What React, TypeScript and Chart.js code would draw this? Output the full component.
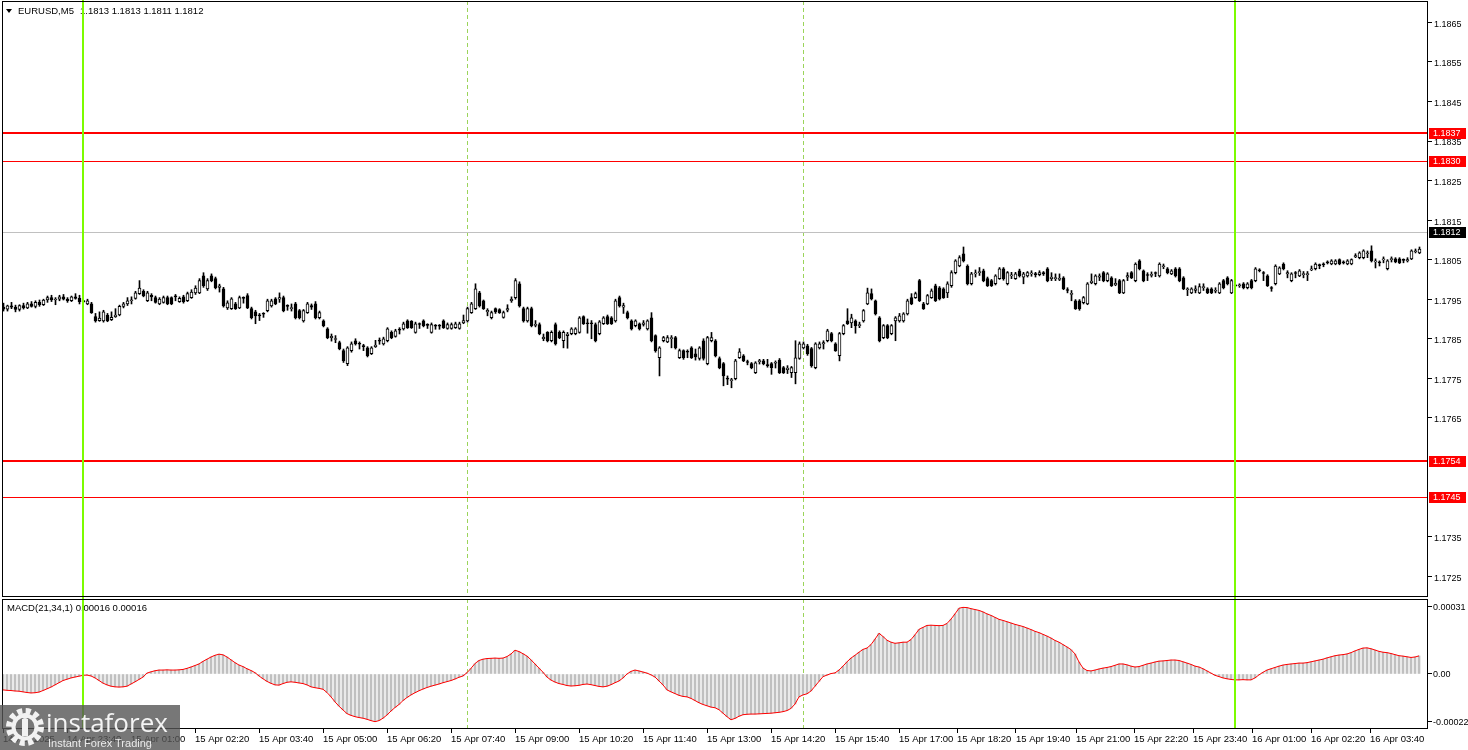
import React, { useEffect, useRef } from "react";
import { Chart, registerables } from "chart.js";

Chart.register(...registerables);

const FONT = "'Liberation Sans', Arial, sans-serif";

const symbolTitle = "EURUSD,M5";
const quoteText = "1.1813 1.1813 1.1811 1.1812";
const macdTitle = "MACD(21,34,1) 0.00016 0.00016";

const priceTicks = [1.1865, 1.1855, 1.1845, 1.1835, 1.1825, 1.1815, 1.1805, 1.1795, 1.1785, 1.1775, 1.1765, 1.1735, 1.1725];
const priceMin = 1.17197;
const priceMax = 1.18704;

const strongLevels = [1.1837, 1.1754];
const weakLevels = [1.183, 1.1745];
const bidPrice = 1.1812;

const macdTicks = [0.00031, 0, -0.00022];
const macdTickLabels = ["0.00031", "0.00", "-0.00022"];
const macdMin = -0.0002526;
const macdMax = 0.0003444;

const timeTickBars = [0, 16, 32, 48, 64, 80, 96, 112, 128, 144, 160, 176, 192, 208, 224, 238.5, 253.25, 268.25, 282.75, 297.5, 312.25, 327, 341.75];
const timeTickLabels = ["14 Apr 2025", "14 Apr 23:40", "15 Apr 01:00", "15 Apr 02:20", "15 Apr 03:40", "15 Apr 05:00", "15 Apr 06:20", "15 Apr 07:40", "15 Apr 09:00", "15 Apr 10:20", "15 Apr 11:40", "15 Apr 13:00", "15 Apr 14:20", "15 Apr 15:40", "15 Apr 17:00", "15 Apr 18:20", "15 Apr 19:40", "15 Apr 21:00", "15 Apr 22:20", "15 Apr 23:40", "16 Apr 01:00", "16 Apr 02:20", "16 Apr 03:40"];

const greenLineBars = [20, 308];
const separatorBars = [116, 200];

// [open, high, low, close]
const ohlcNight = [
  [1.1793,1.1794,1.1792,1.17925],[1.17925,1.17935,1.1792,1.17933],[1.17933,1.17942,1.17926,1.1793],[1.1793,1.17935,1.17918,1.17924],
  [1.17924,1.17936,1.1792,1.17934],[1.17934,1.1794,1.17925,1.17928],[1.17928,1.17942,1.17926,1.17938],[1.17938,1.17944,1.1793,1.17932],
  [1.17932,1.17946,1.17928,1.17942],[1.17942,1.17948,1.17932,1.17936],[1.17936,1.1795,1.17934,1.17948],[1.17948,1.17958,1.17942,1.17954],
  [1.17954,1.1796,1.17944,1.17948],[1.17948,1.17954,1.17936,1.1795],[1.1795,1.1796,1.17946,1.17956],[1.17956,1.17962,1.17948,1.1795],
  [1.1795,1.17954,1.17942,1.17946],[1.17946,1.17958,1.17944,1.17956],[1.17956,1.17964,1.1795,1.17952],[1.17952,1.1796,1.17938,1.17944],
];

const ohlcMorning = [
  [1.17944,1.17946,1.17942,1.17944],[1.17938,1.1795,1.17936,1.17946],[1.17938,1.17942,1.17914,1.17916],[1.17906,1.17914,1.17892,1.17895],
  [1.17896,1.17918,1.17894,1.17902],[1.17895,1.17922,1.17892,1.17918],[1.1791,1.17914,1.17893,1.17895],[1.17898,1.17918,1.17896,1.17904],
  [1.17906,1.17926,1.17904,1.1791],[1.1791,1.17935,1.17908,1.17932],[1.17932,1.17942,1.17928,1.17938],[1.17938,1.17954,1.17934,1.17946],
  [1.17946,1.17956,1.17938,1.17948],[1.17952,1.1797,1.1795,1.17966],[1.17964,1.17997,1.17962,1.17978],[1.1797,1.17974,1.17956,1.17958],
  [1.17946,1.1797,1.17944,1.17966],[1.1796,1.17964,1.17946,1.17956],[1.17954,1.17958,1.1794,1.17942],[1.17938,1.17954,1.17936,1.1795],
  [1.17942,1.17958,1.1794,1.17954],[1.17954,1.17958,1.17936,1.17938],[1.17954,1.17956,1.17936,1.17938],[1.17958,1.17962,1.17946,1.17956],
  [1.17944,1.17956,1.17942,1.17952],[1.17956,1.1796,1.1794,1.17944],[1.17946,1.17968,1.17944,1.17964],[1.17954,1.17974,1.17952,1.17968],
  [1.17966,1.17984,1.17962,1.17978],[1.17966,1.18002,1.17964,1.17997],[1.18009,1.18017,1.1798,1.17984],[1.17976,1.18002,1.17972,1.17997],
  [1.18009,1.18014,1.17994,1.17997],[1.18002,1.18006,1.17976,1.17979],[1.1798,1.17988,1.17968,1.17984],[1.17976,1.1798,1.1793,1.17933],
  [1.17928,1.17946,1.17924,1.17941],[1.17926,1.17954,1.17924,1.17951],[1.17938,1.17942,1.17924,1.17926],[1.17928,1.17958,1.17926,1.17954],
  [1.17954,1.17956,1.1794,1.17952],[1.17959,1.17964,1.17926,1.17928],[1.17926,1.1793,1.179,1.17903],[1.17918,1.17922,1.17888,1.17908],
  [1.1791,1.17914,1.17896,1.17908],[1.17914,1.17916,1.17904,1.17912],[1.17921,1.1795,1.17918,1.17946],[1.17933,1.1795,1.1793,1.17946],
  [1.17951,1.17954,1.17936,1.17938],[1.1795,1.17966,1.17942,1.17954],[1.17954,1.17958,1.17918,1.17921],[1.17934,1.17936,1.17922,1.17932],
  [1.17926,1.17938,1.1792,1.17929],[1.17938,1.17942,1.179,1.17903],[1.17921,1.17924,1.179,1.17903],[1.17895,1.17924,1.17892,1.17921],
  [1.17916,1.17942,1.17914,1.17938],[1.17934,1.17938,1.17924,1.1793],[1.17938,1.17944,1.179,1.17903],[1.17903,1.1792,1.179,1.17916],
  [1.17895,1.17898,1.1788,1.17883],[1.17875,1.17878,1.1785,1.17853],[1.17853,1.17862,1.17844,1.17856],[1.17848,1.17858,1.1784,1.1785],
  [1.1784,1.17844,1.17822,1.17825],[1.1782,1.17824,1.1779,1.17794],[1.17787,1.1783,1.17782,1.17827],
];

const ohlcMidday = [
  [1.1782,1.17842,1.17816,1.17837],[1.17845,1.1785,1.17834,1.17837],[1.17838,1.17842,1.17824,1.17836],[1.17832,1.17836,1.1782,1.1783],
  [1.17827,1.1783,1.17804,1.17807],[1.17812,1.1783,1.1781,1.17827],[1.1783,1.17846,1.17828,1.17834],[1.17846,1.17852,1.17836,1.17844],
  [1.17837,1.17854,1.17834,1.1785],[1.17845,1.17878,1.17842,1.17875],[1.17866,1.1787,1.1785,1.17853],[1.17856,1.17874,1.17854,1.1787],
  [1.17874,1.17878,1.17862,1.17872],[1.17875,1.17892,1.17872,1.17888],[1.17895,1.17898,1.17876,1.17878],[1.17894,1.17896,1.17876,1.17878],
  [1.17866,1.17892,1.17864,1.17888],[1.17888,1.1789,1.17876,1.17886],[1.17895,1.17898,1.1788,1.17883],[1.17886,1.17888,1.17876,1.17884],
  [1.17866,1.1789,1.17864,1.17886],[1.17884,1.17886,1.17874,1.17882],[1.17884,1.17886,1.17874,1.17882],[1.17895,1.17898,1.17876,1.17878],
  [1.17876,1.1789,1.17874,1.17886],[1.17876,1.1789,1.17874,1.17886],[1.17878,1.17892,1.17876,1.17888],[1.17876,1.17892,1.17874,1.17888],
  [1.1789,1.1791,1.17888,1.17896],[1.17895,1.1793,1.17892,1.17926],[1.17916,1.17942,1.17914,1.17938],[1.17926,1.17989,1.17924,1.17976],
  [1.17966,1.1797,1.1793,1.17933],[1.17946,1.17948,1.17924,1.17926],[1.17918,1.17926,1.17908,1.17922],[1.17903,1.1792,1.179,1.17916],
  [1.17926,1.17928,1.17914,1.17918],[1.17924,1.17926,1.17914,1.17916],[1.17904,1.1792,1.17902,1.17916],[1.17922,1.17936,1.17918,1.17926],
  [1.17946,1.17956,1.17942,1.1795],[1.17954,1.18002,1.1795,1.17997],[1.17989,1.17994,1.1793,1.17933],[1.17926,1.1793,1.17892,1.17895],
  [1.17895,1.1793,1.17892,1.17926],[1.17926,1.1793,1.1788,1.17883],[1.17884,1.17896,1.1788,1.17886],[1.17886,1.1789,1.1786,1.17863],
  [1.1785,1.17862,1.17845,1.17854],[1.17866,1.17868,1.17842,1.17845],[1.17845,1.1787,1.17842,1.17866],[1.17886,1.1789,1.17834,1.17837],
  [1.17866,1.1787,1.1785,1.17853],[1.17845,1.1787,1.17827,1.17866],[1.17858,1.17866,1.17826,1.17862],[1.17863,1.17878,1.1786,1.17875],
  [1.17863,1.17878,1.1786,1.17875],[1.17866,1.17906,1.17864,1.17903],[1.17906,1.17908,1.17886,1.17888],[1.1789,1.179,1.17864,1.17888],
  [1.1789,1.17896,1.1785,1.17888],[1.17886,1.1789,1.17842,1.17845],[1.17863,1.17896,1.1786,1.17893],[1.17888,1.17906,1.17886,1.17903],
  [1.17906,1.1791,1.17886,1.17888],[1.17903,1.17906,1.17886,1.17888],[1.17895,1.1795,1.17892,1.17946],[1.17954,1.17958,1.1793,1.17933],
  [1.1793,1.1794,1.17914,1.17934],[1.17916,1.1792,1.179,1.17903],[1.17895,1.17898,1.17872,1.17875],[1.17883,1.17898,1.1788,1.17895],
  [1.17888,1.1789,1.17872,1.17875],[1.17886,1.17896,1.17882,1.1789],[1.17875,1.17898,1.17872,1.17895],[1.17903,1.17916,1.17842,1.17845],
  [1.17858,1.1786,1.17816,1.1782],[1.17802,1.1783,1.17756,1.17827],[1.17845,1.17856,1.17842,1.17853],[1.17842,1.17858,1.1784,1.17853],
  [1.1785,1.17858,1.17827,1.17853],[1.17853,1.17856,1.17824,1.17827],[1.17802,1.17824,1.178,1.1782],[1.1782,1.17822,1.17798,1.17802],
  [1.17818,1.17822,1.17802,1.17816],[1.17827,1.1783,1.178,1.17802],[1.17812,1.17824,1.17796,1.17804],
];

const ohlcAfternoon = [
  [1.178,1.1783,1.17796,1.17827],[1.17845,1.1785,1.17796,1.178],[1.17787,1.17856,1.17784,1.17853],[1.17845,1.17866,1.17842,1.17853],
  [1.17845,1.17848,1.17804,1.17807],[1.178,1.17804,1.17774,1.17777],[1.17787,1.1779,1.17731,1.17756],[1.1775,1.17756,1.17734,1.17748],
  [1.17744,1.1775,1.17726,1.17746],[1.17749,1.17798,1.17746,1.17794],[1.17802,1.17825,1.178,1.17817],[1.17807,1.1781,1.17792,1.17794],
  [1.17792,1.17796,1.17784,1.1779],[1.17787,1.1779,1.17774,1.17777],[1.17764,1.17792,1.17762,1.17789],[1.17792,1.17798,1.17786,1.17794],
  [1.17794,1.17798,1.17784,1.17787],[1.17784,1.17798,1.17778,1.17782],[1.17787,1.1779,1.1776,1.17777],[1.17788,1.17794,1.17776,1.1779],
  [1.17796,1.178,1.17762,1.17764],[1.17777,1.1778,1.17762,1.17764],[1.17772,1.17782,1.17762,1.17776],[1.17764,1.1778,1.17752,1.17777],
  [1.17764,1.17845,1.17736,1.17802],[1.178,1.17842,1.17798,1.17837],[1.17827,1.17842,1.17824,1.17837],[1.17832,1.17836,1.17808,1.17812],
  [1.17825,1.17828,1.17778,1.17782],[1.17777,1.1784,1.17774,1.17837],[1.17827,1.17842,1.17824,1.17837],[1.17837,1.17845,1.17824,1.1784],
  [1.17845,1.17874,1.17842,1.1787],[1.17863,1.17866,1.17842,1.17845],[1.17837,1.1784,1.17818,1.1782],[1.17807,1.17866,1.17794,1.17863],
  [1.17863,1.17886,1.1786,1.17883],[1.17895,1.17926,1.17886,1.17888],[1.1789,1.17912,1.17878,1.17903],[1.17895,1.17898,1.17864,1.17883],
  [1.17883,1.17892,1.17878,1.17886],[1.17895,1.17924,1.17892,1.17921],[1.17938,1.17978,1.17936,1.17966],[1.17964,1.17976,1.17948,1.17951],
  [1.17946,1.17948,1.1791,1.17913],[1.17903,1.17906,1.17842,1.17845],[1.17853,1.17886,1.1785,1.17883],[1.17883,1.17886,1.1785,1.17853],
  [1.17863,1.17886,1.1786,1.17883],[1.17895,1.17906,1.17845,1.17903],[1.17895,1.17914,1.17892,1.17908],[1.17895,1.17916,1.17892,1.17913],
  [1.17913,1.1795,1.1791,1.17946],[1.17954,1.17964,1.17936,1.17938],[1.17954,1.17968,1.17952,1.17964],[1.17997,1.18,1.17944,1.17946],
  [1.17938,1.17942,1.17924,1.17926],[1.17938,1.17962,1.17936,1.17959],[1.17954,1.17976,1.17952,1.17971],[1.17984,1.17988,1.17944,1.17946],
  [1.17979,1.17982,1.17948,1.17951],[1.17976,1.17979,1.17952,1.17954],[1.17966,1.17994,1.17954,1.17989],[1.17984,1.18022,1.1798,1.18017],
  [1.18017,1.1805,1.18014,1.18047],[1.18034,1.1806,1.18032,1.18055],[1.18065,1.18082,1.18044,1.18047],[1.18034,1.18037,1.17986,1.17989],
  [1.17989,1.18018,1.17986,1.18014],[1.18014,1.18024,1.18006,1.18016],[1.18017,1.1803,1.1801,1.18019],[1.18022,1.18026,1.17994,1.17997],
  [1.18002,1.18006,1.17982,1.17984],[1.17997,1.18,1.17982,1.17984],[1.17989,1.18012,1.17986,1.18009],[1.18002,1.1803,1.18,1.18027],
  [1.18027,1.1803,1.17998,1.18002],[1.17989,1.1802,1.17986,1.18017],[1.18009,1.18018,1.18002,1.18011],[1.18002,1.18018,1.18,1.18014],
  [1.18022,1.18026,1.18006,1.18009],[1.18006,1.18018,1.17989,1.18014],[1.18009,1.1802,1.18006,1.18017],[1.18014,1.18022,1.18008,1.18016],
  [1.18014,1.18018,1.18006,1.18012],[1.18012,1.18022,1.18009,1.18017],[1.18017,1.1802,1.1801,1.18014],
];

const ohlcEvening = [
  [1.18027,1.1803,1.17994,1.17997],[1.18002,1.18017,1.17997,1.18006],[1.18002,1.18014,1.17997,1.18004],[1.18,1.18014,1.17997,1.18002],
  [1.18004,1.18007,1.17974,1.17976],[1.17974,1.17979,1.17966,1.17972],[1.17962,1.17972,1.17946,1.17964],[1.17946,1.17949,1.17924,1.17926],
  [1.17946,1.17949,1.17922,1.17926],[1.17941,1.17957,1.17938,1.17954],[1.17938,1.17992,1.17936,1.17989],[1.17992,1.18014,1.17989,1.17996],
  [1.17989,1.18012,1.17986,1.18009],[1.18006,1.18014,1.17997,1.18009],[1.18017,1.1802,1.17994,1.17997],[1.17997,1.18017,1.17994,1.18014],
  [1.18004,1.18007,1.17982,1.17984],[1.17986,1.18002,1.17984,1.1799],[1.17997,1.18,1.17964,1.17966],[1.17966,1.18,1.17964,1.17997],
  [1.18006,1.18017,1.17997,1.1801],[1.18017,1.1802,1.18002,1.18004],[1.17997,1.18042,1.17994,1.18039],[1.18047,1.1805,1.18024,1.18027],
  [1.18022,1.18024,1.17994,1.17997],[1.18012,1.18017,1.17997,1.1801],[1.1801,1.18019,1.18006,1.18013],[1.18017,1.18019,1.18007,1.18015],
  [1.18009,1.18042,1.18006,1.18039],[1.18032,1.18039,1.18027,1.18034],[1.18027,1.1803,1.18014,1.18017],[1.18014,1.18025,1.18012,1.18022],
  [1.18027,1.1803,1.18006,1.18009],[1.18027,1.1803,1.17994,1.17997],[1.18004,1.18007,1.17974,1.17976],[1.17974,1.17979,1.17959,1.17976],
  [1.17966,1.17979,1.17964,1.17976],[1.17972,1.17984,1.17966,1.17976],[1.17966,1.17989,1.17964,1.17982],[1.17979,1.17989,1.17972,1.17982],
  [1.17976,1.17979,1.17964,1.17966],[1.17976,1.17979,1.17964,1.17966],[1.1797,1.17979,1.17966,1.17972],[1.17966,1.17992,1.17964,1.17989],
  [1.17997,1.18,1.17976,1.17979],[1.18004,1.18007,1.17986,1.17989],[1.17966,1.18,1.17964,1.17997],[1.17984,1.17986,1.17982,1.17984],
  [1.17984,1.17989,1.1798,1.17986],[1.17989,1.17992,1.17976,1.17979],[1.17979,1.17992,1.17976,1.17989],[1.17997,1.18,1.17976,1.17979],
  [1.17997,1.1803,1.17994,1.18027],[1.18024,1.18027,1.18019,1.18022],[1.18017,1.1802,1.17997,1.18015],[1.18009,1.18012,1.17982,1.17984],
  [1.17979,1.17982,1.1797,1.17977],[1.17989,1.18037,1.17986,1.18034],[1.18014,1.18032,1.18012,1.18029],[1.18039,1.18042,1.18024,1.18027],
  [1.18014,1.18022,1.18004,1.18017],[1.17997,1.18017,1.17994,1.18014],[1.18017,1.1802,1.18004,1.18015],[1.18009,1.18025,1.18007,1.18022],
  [1.18012,1.1802,1.18004,1.18015],[1.18012,1.1802,1.17997,1.18015],[1.18024,1.18034,1.18022,1.18027],[1.18027,1.18042,1.18024,1.18039],
  [1.18037,1.18039,1.18027,1.18035],[1.18039,1.18042,1.18032,1.18037],[1.18044,1.18047,1.18039,1.18042],[1.18039,1.1805,1.18037,1.18047],
  [1.18039,1.1805,1.18037,1.18047],[1.1805,1.18052,1.18037,1.18039],[1.18044,1.18047,1.18039,1.18042],[1.18039,1.1805,1.18037,1.18047],
  [1.18039,1.18052,1.18037,1.1805],[1.18057,1.18065,1.18055,1.1806],[1.18055,1.1807,1.18052,1.18067],[1.18055,1.18075,1.18052,1.18072],
  [1.18065,1.18072,1.18055,1.18067],[1.18072,1.18085,1.18044,1.18047],[1.18044,1.18052,1.18029,1.18047],[1.18044,1.18047,1.18034,1.18042],
  [1.18049,1.18057,1.18042,1.18052],[1.18027,1.1805,1.18024,1.18047],[1.1805,1.18057,1.18044,1.18052],[1.18052,1.18055,1.18042,1.18044],
  [1.18052,1.18055,1.1804,1.18042],[1.1805,1.18052,1.18042,1.18048],[1.18047,1.18055,1.18044,1.1805],[1.18052,1.18075,1.1805,1.18072],
  [1.1807,1.18077,1.18067,1.18072],[1.18067,1.18082,1.18065,1.18077],
];

const macdHistogram = [
  -7.3e-5,-7.5e-5,-7.6e-5,-7.8e-5,-7.9e-5,-8.2e-5,-8.5e-5,-8.7e-5,-8.6e-5,-8.3e-5,
  -7.6e-5,-6.8e-5,-6.0e-5,-5.0e-5,-4.0e-5,-3.0e-5,-2.4e-5,-1.8e-5,-1.4e-5,-1.0e-5,
  -0.6e-5,-0.5e-5,-0.9e-5,-1.8e-5,-3.0e-5,-4.2e-5,-5.0e-5,-5.6e-5,-5.9e-5,-6.0e-5,
  -5.9e-5,-5.6e-5,-4.6e-5,-3.6e-5,-2.5e-5,-1.4e-5,0.4e-5,1.0e-5,1.5e-5,1.8e-5,
  1.8e-5,1.9e-5,1.8e-5,1.8e-5,1.9e-5,2.1e-5,2.6e-5,3.2e-5,3.9e-5,4.6e-5,
  5.8e-5,6.8e-5,7.8e-5,8.6e-5,9.1e-5,8.8e-5,7.8e-5,6.5e-5,5.2e-5,4.1e-5,
  3.4e-5,2.4e-5,1.6e-5,0.6e-5,-0.9e-5,-2.2e-5,-3.4e-5,-4.3e-5,-5.0e-5,-5.1e-5,
  -4.4e-5,-3.8e-5,-3.6e-5,-3.8e-5,-4.1e-5,-4.4e-5,-5.0e-5,-5.9e-5,-6.3e-5,-6.6e-5,
  -7.0e-5,-8.5e-5,-10.5e-5,-12.8e-5,-14.8e-5,-16.5e-5,-18.2e-5,-19.0e-5,-19.6e-5,-20.0e-5,
  -20.3e-5,-20.8e-5,-21.4e-5,-21.9e-5,-21.4e-5,-20.3e-5,-18.8e-5,-17.0e-5,-15.4e-5,-14.0e-5,
  -12.2e-5,-10.8e-5,-9.6e-5,-8.6e-5,-7.7e-5,-6.9e-5,-6.2e-5,-5.6e-5,-5.1e-5,-4.6e-5,
  -4.0e-5,-3.5e-5,-3.0e-5,-2.3e-5,-1.5e-5,-0.9e-5,0.6e-5,2.6e-5,4.8e-5,6.2e-5,
  6.8e-5,7.1e-5,7.2e-5,7.3e-5,7.2e-5,7.3e-5,8.0e-5,9.2e-5,10.9e-5,10.3e-5,
  9.3e-5,8.2e-5,6.5e-5,4.6e-5,2.7e-5,0.8e-5,-1.4e-5,-2.8e-5,-3.7e-5,-4.4e-5,
  -4.8e-5,-5.3e-5,-5.5e-5,-5.4e-5,-5.2e-5,-4.8e-5,-4.6e-5,-4.9e-5,-5.3e-5,-5.7e-5,
  -5.9e-5,-5.6e-5,-4.9e-5,-4.0e-5,-3.2e-5,-1.8e-5,0.0,1.2e-5,1.8e-5,1.4e-5,
  0.9e-5,0.4e-5,-0.4e-5,-1.4e-5,-3.2e-5,-5.0e-5,-7.3e-5,-8.2e-5,-9.0e-5,-9.8e-5,
  -10.3e-5,-10.5e-5,-11.2e-5,-12.2e-5,-13.2e-5,-14.0e-5,-14.6e-5,-15.2e-5,-15.5e-5,-16.4e-5,
  -18.0e-5,-19.6e-5,-21.0e-5,-20.4e-5,-19.4e-5,-18.7e-5,-18.5e-5,-18.4e-5,-18.4e-5,-18.3e-5,
  -18.2e-5,-18.1e-5,-18.0e-5,-17.8e-5,-17.6e-5,-17.3e-5,-16.8e-5,-15.8e-5,-13.8e-5,-10.5e-5,
  -9.6e-5,-9.1e-5,-7.8e-5,-5.6e-5,-3.4e-5,-1.2e-5,-0.5e-5,0.2e-5,0.5e-5,1.8e-5,
  3.6e-5,5.6e-5,7.3e-5,8.6e-5,10.0e-5,11.3e-5,11.9e-5,13.5e-5,16.0e-5,18.7e-5,
  17.2e-5,15.5e-5,14.6e-5,14.1e-5,14.3e-5,14.6e-5,14.6e-5,15.8e-5,18.0e-5,20.5e-5,
  21.4e-5,22.3e-5,22.4e-5,22.3e-5,22.2e-5,22.3e-5,23.2e-5,25.2e-5,27.6e-5,30.2e-5,
  30.6e-5,30.5e-5,30.0e-5,29.6e-5,29.2e-5,28.5e-5,27.6e-5,26.9e-5,26.0e-5,25.1e-5,
  24.6e-5,24.0e-5,23.4e-5,22.8e-5,22.3e-5,21.8e-5,21.1e-5,20.4e-5,19.6e-5,19.0e-5,
  18.2e-5,17.4e-5,16.5e-5,15.4e-5,14.6e-5,13.5e-5,12.4e-5,11.2e-5,9.2e-5,5.5e-5,
  2.7e-5,1.6e-5,1.4e-5,1.8e-5,2.3e-5,2.7e-5,3.0e-5,3.4e-5,4.0e-5,4.6e-5,
  4.6e-5,4.2e-5,3.6e-5,3.2e-5,3.4e-5,4.0e-5,4.6e-5,5.0e-5,5.5e-5,5.9e-5,
  6.0e-5,6.2e-5,6.4e-5,6.4e-5,6.2e-5,5.6e-5,5.0e-5,4.4e-5,3.6e-5,3.2e-5,
  2.4e-5,1.4e-5,0.4e-5,-0.6e-5,-1.2e-5,-1.8e-5,-2.2e-5,-2.5e-5,-2.7e-5,-2.7e-5,
  -2.6e-5,-2.7e-5,-2.7e-5,-1.8e-5,-0.4e-5,0.8e-5,1.8e-5,2.4e-5,3.0e-5,3.6e-5,
  4.1e-5,4.4e-5,4.6e-5,4.8e-5,5.0e-5,5.0e-5,5.2e-5,5.6e-5,6.0e-5,6.4e-5,
  6.8e-5,7.4e-5,7.9e-5,8.4e-5,8.7e-5,8.9e-5,9.2e-5,9.8e-5,10.6e-5,11.3e-5,
  11.9e-5,12.0e-5,11.6e-5,11.0e-5,10.4e-5,10.0e-5,9.8e-5,9.4e-5,8.9e-5,8.4e-5,
  8.2e-5,7.9e-5,7.6e-5,7.8e-5,8.3e-5,
];

const candles = [...ohlcNight, ...ohlcMorning, ...ohlcMidday, ...ohlcAfternoon, ...ohlcEvening];

const AXIS_FONT = { size: 9, family: FONT };
const TIME_FONT = { size: 9.5, family: FONT };

function lineX(chart: any, bar: number, shift: number) {
  return Math.floor(chart.scales.x.getPixelForValue(bar) + shift);
}

function drawSeparators(chart: any, shift: number) {
  const { ctx, chartArea: a } = chart;
  ctx.save();
  ctx.strokeStyle = "#9bd45a";
  ctx.lineWidth = 1;
  ctx.setLineDash([4, 3]);
  for (const b of separatorBars) {
    const X = lineX(chart, b, shift) + 0.5;
    ctx.beginPath();
    ctx.moveTo(X, a.top);
    ctx.lineTo(X, a.bottom);
    ctx.stroke();
  }
  ctx.restore();
}

function drawGreen(chart: any, shift: number, y0: number, y1: number) {
  const { ctx } = chart;
  ctx.save();
  ctx.fillStyle = "#7cfc00";
  for (const b of greenLineBars) {
    const X = lineX(chart, b, shift);
    ctx.fillRect(X - 1, y0, 2, y1 - y0);
  }
  ctx.restore();
}

function drawFrame(chart: any) {
  const { ctx, chartArea: a } = chart;
  ctx.save();
  ctx.strokeStyle = "#000";
  ctx.lineWidth = 1;
  ctx.strokeRect(a.left + 0.5, a.top + 0.5, a.right - a.left - 1, a.bottom - a.top - 1);
  ctx.restore();
}

function priceTag(ctx: any, y: number, text: string, bg: string) {
  const yy = Math.round(y);
  ctx.fillStyle = bg;
  ctx.fillRect(1429, yy - 5, 37, 11);
  ctx.fillStyle = "#fff";
  ctx.font = `9px ${FONT}`;
  ctx.textAlign = "left";
  ctx.textBaseline = "middle";
  ctx.fillText(text, 1433, yy + 0.5);
}

const noPadY = (w: number) => (s: any) => {
  s.width = w;
  s.paddingTop = 0;
  s.paddingBottom = 0;
};

const mainDecor = {
  id: "mainDecor",
  beforeDatasetsDraw(chart: any) {
    const { ctx, chartArea: a, scales } = chart;
    drawSeparators(chart, 0);
    ctx.save();
    const yb = Math.round(scales.y.getPixelForValue(bidPrice));
    ctx.fillStyle = "#c0c0c0";
    ctx.fillRect(a.left, yb, a.right - a.left, 1);
    ctx.fillStyle = "#ff0000";
    for (const p of strongLevels) {
      const y = Math.round(scales.y.getPixelForValue(p));
      ctx.fillRect(a.left, y - 1, a.right - a.left, 2);
    }
    for (const p of weakLevels) {
      const y = Math.round(scales.y.getPixelForValue(p));
      ctx.fillRect(a.left, y, a.right - a.left, 1);
    }
    ctx.fillStyle = "#000";
    ctx.beginPath();
    ctx.moveTo(6, 9);
    ctx.lineTo(12, 9);
    ctx.lineTo(9, 13);
    ctx.closePath();
    ctx.fill();
    ctx.font = `9.5px ${FONT}`;
    ctx.textAlign = "left";
    ctx.textBaseline = "middle";
    ctx.fillText(symbolTitle, 18, 11);
    ctx.fillText(quoteText, 80, 11);
    ctx.restore();
  },
  afterDatasetsDraw(chart: any) {
    drawGreen(chart, 0, 0, chart.height);
  },
  afterDraw(chart: any) {
    const { ctx, scales } = chart;
    drawFrame(chart);
    ctx.save();
    for (const p of [...strongLevels, ...weakLevels]) {
      priceTag(ctx, scales.y.getPixelForValue(p), p.toFixed(4), "#ff0000");
    }
    priceTag(ctx, scales.y.getPixelForValue(bidPrice), bidPrice.toFixed(4), "#000000");
    ctx.restore();
  },
};

const macdDecor = {
  id: "macdDecor",
  beforeDatasetsDraw(chart: any) {
    const { ctx } = chart;
    drawSeparators(chart, 0.5);
    ctx.save();
    ctx.fillStyle = "#000";
    ctx.font = `9.5px ${FONT}`;
    ctx.textAlign = "left";
    ctx.textBaseline = "middle";
    ctx.fillText(macdTitle, 7, 10);
    ctx.restore();
  },
  afterDatasetsDraw(chart: any) {
    drawGreen(chart, 0.5, 0, chart.chartArea.bottom);
  },
  afterDraw(chart: any) {
    drawFrame(chart);
  },
};

export default function App() {
  const mainRef = useRef<HTMLCanvasElement>(null);
  const macdRef = useRef<HTMLCanvasElement>(null);

  useEffect(() => {
    Chart.defaults.font.family = FONT;
    Chart.defaults.font.size = 10;
    Chart.defaults.color = "#000";

    const wickData = candles.map((c, i) => ({ x: i, y: [c[2], c[1]] }));
    const bodyData = candles.map((c, i) => ({ x: i, y: [c[0], c[3]] }));
    const bodyColors = candles.map((c) => (c[3] > c[0] ? "#ffffff" : "#000000"));

    const main = new Chart(mainRef.current as HTMLCanvasElement, {
      type: "bar",
      data: {
        datasets: [
          {
            data: bodyData as any,
            backgroundColor: bodyColors,
            borderColor: "#000",
            borderWidth: 1,
            borderSkipped: false,
            barThickness: 3,
            minBarLength: 1,
            grouped: false,
            order: 0,
          } as any,
          {
            data: wickData as any,
            backgroundColor: "#000",
            borderWidth: 0,
            barThickness: 1,
            grouped: false,
            order: 1,
          } as any,
        ],
      },
      options: {
        responsive: false,
        animation: false,
        events: [],
        layout: { padding: { left: 2, top: 1, right: 0, bottom: 1 } },
        plugins: { legend: { display: false }, tooltip: { enabled: false } },
        scales: {
          x: { type: "linear", offset: false, min: -0.375, max: 356.125, display: false },
          y: {
            position: "right",
            min: priceMin,
            max: priceMax,
            afterFit: noPadY(40),
            afterBuildTicks: (s: any) => { s.ticks = priceTicks.map((v) => ({ value: v })); },
            ticks: {
              callback: (v: any) => Number(v).toFixed(4),
              padding: 2,
              labelOffset: 2,
              color: "#000",
              font: AXIS_FONT,
            },
            grid: { drawOnChartArea: false, drawTicks: true, tickLength: 4, color: "#000" },
            border: { display: false },
          },
        },
      } as any,
      plugins: [mainDecor],
    });

    const histData = macdHistogram.map((v, i) => ({ x: i, y: v }));
    const macd = new Chart(macdRef.current as HTMLCanvasElement, {
      type: "bar",
      data: {
        datasets: [
          {
            type: "line",
            data: histData as any,
            borderColor: "#ff0000",
            borderWidth: 1,
            pointRadius: 0,
            tension: 0,
            order: 0,
          } as any,
          {
            data: histData as any,
            backgroundColor: "#c0c0c0",
            borderWidth: 0,
            barThickness: 2,
            grouped: false,
            order: 1,
          } as any,
        ],
      },
      options: {
        responsive: false,
        animation: false,
        events: [],
        layout: { padding: { left: 2, top: 1, right: 0, bottom: 0 } },
        plugins: { legend: { display: false }, tooltip: { enabled: false } },
        scales: {
          x: {
            type: "linear",
            position: "bottom",
            offset: false,
            min: -0.25,
            max: 356.25,
            afterFit: (s: any) => {
              s.height = 21;
              s.paddingLeft = 0;
              s.paddingRight = 0;
            },
            afterBuildTicks: (s: any) => { s.ticks = timeTickBars.map((v) => ({ value: v })); },
            ticks: {
              callback: (_v: any, i: number) => timeTickLabels[i],
              align: "start",
              autoSkip: false,
              maxRotation: 0,
              minRotation: 0,
              padding: 1,
              color: "#000",
              font: TIME_FONT,
            },
            grid: { drawOnChartArea: false, drawTicks: true, tickLength: 4, color: "#000", offset: false },
            border: { display: false },
          },
          y: {
            position: "right",
            min: macdMin,
            max: macdMax,
            afterFit: noPadY(40),
            afterBuildTicks: (s: any) => { s.ticks = macdTicks.map((v) => ({ value: v })); },
            ticks: {
              callback: (_v: any, i: number) => macdTickLabels[i],
              padding: 1,
              labelOffset: 1,
              color: "#000",
              font: AXIS_FONT,
            },
            grid: { drawOnChartArea: false, drawTicks: true, tickLength: 4, color: "#000" },
            border: { display: false },
          },
        },
      } as any,
      plugins: [macdDecor],
    });

    return () => {
      main.destroy();
      macd.destroy();
    };
  }, []);

  return (
    <div style={{ position: "absolute", left: 0, top: 0, width: 1468, height: 750, background: "#fff", overflow: "hidden" }}>
      <canvas ref={mainRef} width={1468} height={598} style={{ position: "absolute", left: 0, top: 0, width: 1468, height: 598 }} />
      <canvas ref={macdRef} width={1468} height={152} style={{ position: "absolute", left: 0, top: 598, width: 1468, height: 152 }} />
      <div style={{ position: "absolute", left: 0, top: 705, width: 180, height: 45, background: "rgba(85,85,85,0.8)", overflow: "hidden" }}>
        <svg width="46" height="45" style={{ position: "absolute", left: 3, top: 0 }}>
          <circle cx="22" cy="22" r="16" fill="none" stroke="#f2f2f2" strokeWidth="6" strokeDasharray="5 3.4" />
          <circle cx="22" cy="22" r="11.5" fill="none" stroke="#f2f2f2" strokeWidth="4" />
          <rect x="19" y="14" width="6" height="17" fill="#f2f2f2" />
          <circle cx="22" cy="11" r="3" fill="#f2f2f2" />
        </svg>
        <div style={{ position: "absolute", left: 46, top: 4, fontFamily: "'Open Sans', sans-serif", fontSize: 26, lineHeight: "26px", color: "#f4f4f4", whiteSpace: "nowrap" }}>instaforex</div>
        <div style={{ position: "absolute", left: 48, top: 32, fontFamily: FONT, fontSize: 11, lineHeight: "12px", color: "rgba(255,255,255,0.85)", whiteSpace: "nowrap" }}>Instant Forex Trading</div>
      </div>
    </div>
  );
}
